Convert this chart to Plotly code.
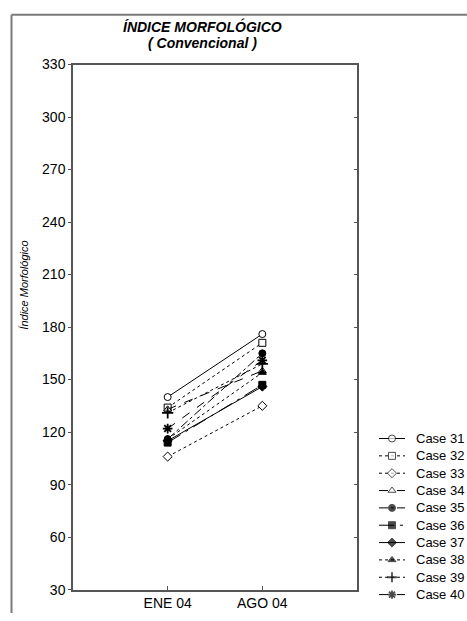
import plotly.graph_objects as go

# Índice morfológico por caso, dos mediciones
periods = ["ENE 04", "AGO 04"]
cases = ["Case 31", "Case 32", "Case 33", "Case 34", "Case 35",
         "Case 36", "Case 37", "Case 38", "Case 39", "Case 40"]
ene_04 = [140, 134, 106, 133, 116, 114, 115, 116, 131, 122]
ago_04 = [176, 171, 135, 155, 165, 147, 146, 154, 159, 161]
y_ticks = [30, 60, 90, 120, 150, 180, 210, 240, 270, 300, 330]

# style per case: (marker symbol, filled, line dash)
styles = [
    ("circle", False, "solid"),
    ("square", False, "dot"),
    ("diamond", False, "dot"),
    ("triangle-up", False, "dash"),
    ("circle", True, "dashdot"),
    ("square", True, "longdashdot"),
    ("diamond", True, "solid"),
    ("triangle-up", True, "dot"),
    ("cross-thin", True, "dot"),
    ("asterisk", True, "dash"),
]

W, H = 467, 621
FONT = "Liberation Sans, Arial, sans-serif"
AXIS_COLOR = "#555555"


def marker_style(symbol, filled, size):
    if symbol in ("cross-thin", "asterisk"):
        return dict(symbol=symbol, size=size + 1, color="black",
                    line=dict(color="black", width=1.8))
    return dict(symbol=symbol, size=size,
                color="black" if filled else "white",
                line=dict(color="black", width=1))


fig = go.Figure()

for name, e, a, (sym, filled, dash) in zip(cases, ene_04, ago_04, styles):
    fig.add_trace(go.Scatter(
        x=periods, y=[e, a], mode="lines+markers", name=name,
        line=dict(color="black", width=1, dash=dash),
        marker=marker_style(sym, filled, 7),
        showlegend=False, xaxis="x", yaxis="y",
    ))

# carrier trace for the right-hand tick axis
fig.add_trace(go.Scatter(x=periods, y=ene_04[:2], mode="markers",
                         opacity=0, hoverinfo="skip", showlegend=False,
                         xaxis="x", yaxis="y2"))

# key: one short line sample per case on its own small axes
key_labels = []
for i, (name, (sym, filled, dash)) in enumerate(zip(cases, styles)):
    fig.add_trace(go.Scatter(
        x=[0, 0.5, 1], y=[i, i, i], mode="lines+markers",
        line=dict(color="black", width=1, dash=dash),
        marker=dict(marker_style(sym, filled, 7), size=[0, 7, 0]),
        hoverinfo="skip", showlegend=False, xaxis="x3", yaxis="y3",
    ))
    key_labels.append(dict(x=414 / W, y=i, xref="paper", yref="y3",
                           text=name, showarrow=False, xanchor="left",
                           yanchor="middle",
                           font=dict(family=FONT, size=13, color="black")))

x_dom = [73 / W, 357 / W]
y_dom = [1 - 597 / H, 1 - 58 / H]

fig.update_layout(
    width=W, height=H,
    margin=dict(l=0, r=0, t=0, b=0),
    paper_bgcolor="white", plot_bgcolor="white",
    font=dict(family=FONT, size=14, color="black"),
    xaxis=dict(domain=x_dom, type="category", range=[-1, 2],
               showline=True, linecolor=AXIS_COLOR, linewidth=1.5, mirror=True,
               ticks="inside", ticklen=4, tickcolor=AXIS_COLOR,
               showgrid=False, zeroline=False, anchor="y",
               tickfont=dict(size=14)),
    yaxis=dict(domain=y_dom, range=[30, 330], tickvals=y_ticks,
               showline=True, linecolor=AXIS_COLOR, linewidth=1.5, mirror=True,
               ticks="outside", ticklen=3, tickcolor=AXIS_COLOR,
               showgrid=False, zeroline=False, anchor="x",
               tickfont=dict(size=14)),
    yaxis2=dict(overlaying="y", side="right", anchor="x", range=[30, 330],
                tickvals=y_ticks, ticks="inside", ticklen=3,
                tickcolor=AXIS_COLOR, showticklabels=False,
                showgrid=False, zeroline=False, showline=False),
    xaxis3=dict(domain=[379 / W, 405 / W], range=[0, 1], visible=False,
                anchor="y3"),
    yaxis3=dict(domain=[1 - 611 / H, 1 - 433 / H], range=[9.5, -0.5],
                visible=False, anchor="x3"),
    shapes=[
        dict(type="line", xref="paper", yref="paper",
             x0=11.5 / W, x1=1, y0=1 - 7 / H, y1=1 - 7 / H,
             line=dict(color="#7a7a7a", width=2)),
        dict(type="line", xref="paper", yref="paper",
             x0=11.5 / W, x1=11.5 / W, y0=0, y1=1 - 7 / H,
             line=dict(color="#7a7a7a", width=2)),
    ],
    annotations=key_labels + [
        dict(x=202 / W, y=1 - 19 / H, xref="paper", yref="paper",
             text="<b><i>ÍNDICE MORFOLÓGICO</i></b>", showarrow=False,
             xanchor="center", yanchor="middle",
             font=dict(family=FONT, size=14, color="black")),
        dict(x=202 / W, y=1 - 36 / H, xref="paper", yref="paper",
             text="<b><i>( Convencional )</i></b>", showarrow=False,
             xanchor="center", yanchor="middle",
             font=dict(family=FONT, size=14, color="black")),
        dict(x=24 / W, y=1 - 285 / H, xref="paper", yref="paper",
             text="<i>Índice Morfológico</i>", showarrow=False,
             textangle=-90, xanchor="center", yanchor="middle",
             font=dict(family=FONT, size=11, color="black")),
    ],
)

fig.write_html("out.html")
